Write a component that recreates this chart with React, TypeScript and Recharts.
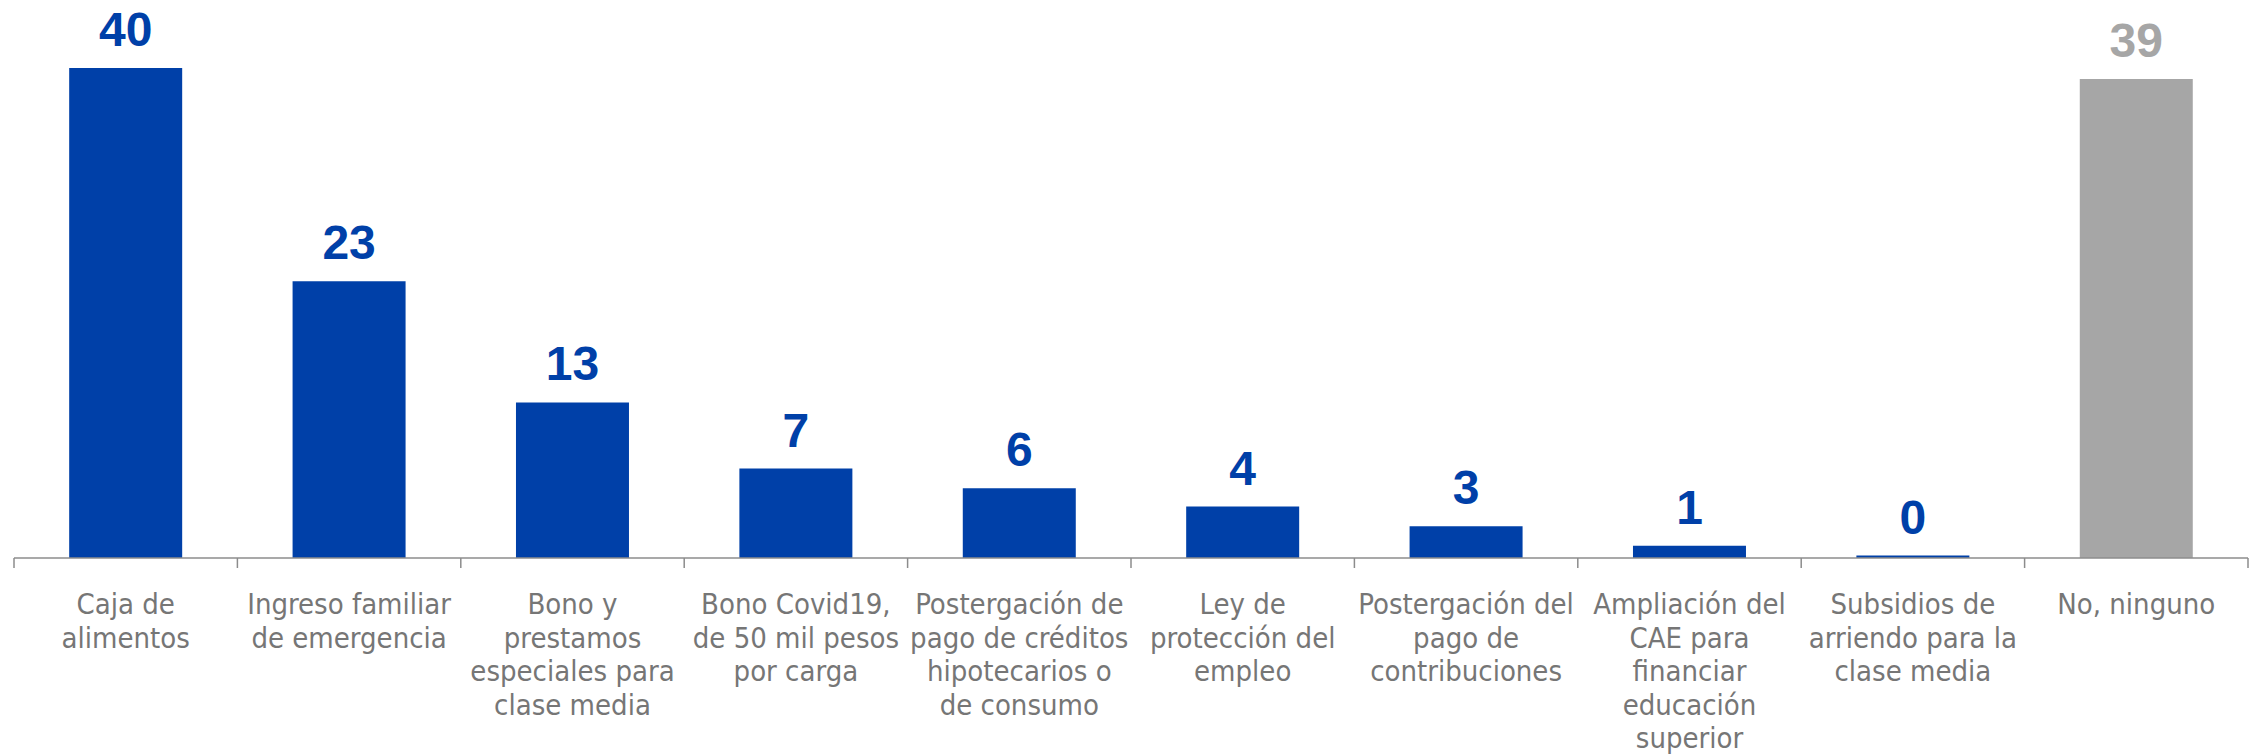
import React from 'react';
import { BarChart, Bar, XAxis, YAxis, Cell, LabelList } from 'recharts';

const categories = [
  'Caja de\nalimentos',
  'Ingreso familiar\nde emergencia',
  'Bono y\nprestamos\nespeciales para\nclase media',
  'Bono Covid19,\nde 50 mil pesos\npor carga',
  'Postergación de\npago de créditos\nhipotecarios o\nde consumo',
  'Ley de\nprotección del\nempleo',
  'Postergación del\npago de\ncontribuciones',
  'Ampliación del\nCAE para\nfinanciar\neducación\nsuperior',
  'Subsidios de\narriendo para la\nclase media',
  'No, ninguno',
];

const values = [40, 22.6, 12.7, 7.3, 5.7, 4.2, 2.6, 1.0, 0.2, 39.1];

// last category ("No, ninguno") is drawn in grey
const groups = ['si', 'si', 'si', 'si', 'si', 'si', 'si', 'si', 'si', 'no'];

const BLUE = '#0040A8';
const GREY = '#A6A6A6';
const LABEL_GREY = '#767676';
const AXIS_GREY = '#8C8C8C';

const data = categories.map((name, i) => ({ name, value: values[i], group: groups[i] }));

const colorOf = (i: number) => (data[i].group === 'no' ? GREY : BLUE);

// tick marks sit on the band edges, not under the bars
const CategoryTick = (props: any) => {
  const { x, y, payload, index } = props;
  const half = payload.offset ?? 0;
  const lines = String(payload.value).split('\n');
  const isLast = index === categories.length - 1;
  return (
    <g>
      <line x1={x - half} x2={x - half} y1={y} y2={y + 10} stroke={AXIS_GREY} strokeWidth={1.5} />
      {isLast && <line x1={x + half} x2={x + half} y1={y} y2={y + 10} stroke={AXIS_GREY} strokeWidth={1.5} />}
      <text
        x={x}
        y={y}
        textAnchor="middle"
        fill={LABEL_GREY}
        fontSize={29}
        fontFamily="'DejaVu Sans Condensed', 'Liberation Sans', sans-serif"
      >
        {lines.map((line, i) => (
          <tspan key={i} x={x} dy={i === 0 ? 56 : 33.5}>
            {line}
          </tspan>
        ))}
      </text>
    </g>
  );
};

const ValueLabel = (props: any) => {
  const { x, y, width, value, index } = props;
  return (
    <text
      x={x + width / 2}
      y={y - 22}
      textAnchor="middle"
      fill={colorOf(index)}
      fontSize={48}
      fontWeight="bold"
      fontFamily="'Liberation Sans', Arial, sans-serif"
    >
      {Math.round(value)}
    </text>
  );
};

const App: React.FC = () => {
  return (
    <div style={{ position: 'absolute', left: 0, top: 0, width: 2260, height: 756, background: '#fff' }}>
      <BarChart
        width={2260}
        height={756}
        data={data}
        margin={{ top: 68, right: 12, bottom: 0, left: 14 }}
        barCategoryGap="24.7%"
      >
        <XAxis
          dataKey="name"
          interval={0}
          height={198}
          axisLine={{ stroke: AXIS_GREY, strokeWidth: 1.5 }}
          tickLine={false}
          tickSize={0}
          tickMargin={0}
          tick={<CategoryTick />}
        />
        <YAxis hide domain={[0, 40]} allowDataOverflow />
        <Bar dataKey="value" isAnimationActive={false}>
          {data.map((d, i) => (
            <Cell key={d.name} fill={colorOf(i)} />
          ))}
          <LabelList dataKey="value" content={<ValueLabel />} />
        </Bar>
      </BarChart>
    </div>
  );
};

export default App;
